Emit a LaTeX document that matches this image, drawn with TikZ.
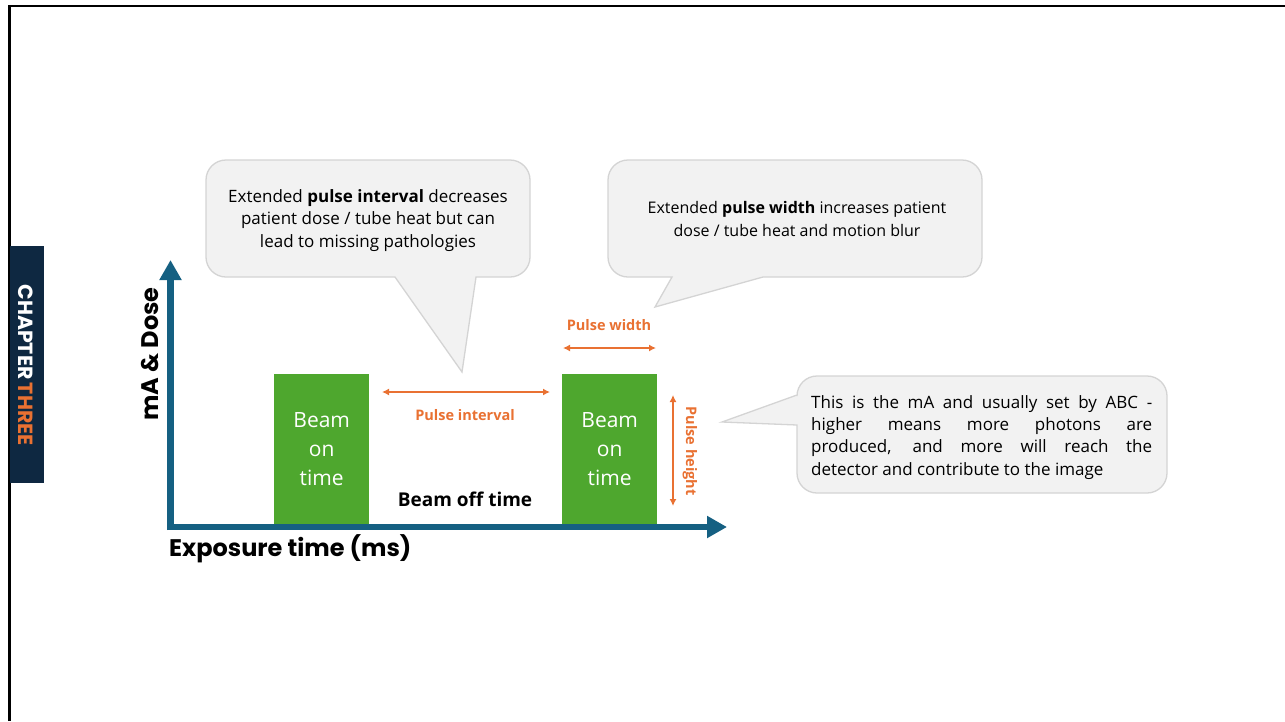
\documentclass[tikz,border=0pt]{standalone}
\usepackage{fontspec}
\setmainfont{Open Sans}
\newfontfamily\heavyfont{Poppins}
\usetikzlibrary{arrows.meta}
\definecolor{navy}{HTML}{0E2841}
\definecolor{axisblue}{HTML}{156082}
\definecolor{tone}{HTML}{E97132}
\definecolor{beamgreen}{HTML}{4EA72E}
\definecolor{balloonfill}{HTML}{F2F2F2}
\definecolor{balloonline}{HTML}{D4D4D4}
\tikzset{
  axisline/.style={draw=axisblue, line width=6.5pt, -{Triangle[width=21pt,length=20pt]}},
  beambox/.style={fill=beamgreen, text=white, align=center, inner sep=0pt,
    font=\fontsize{21}{29}\selectfont},
  dimarrow/.style={draw=tone, line width=1.6pt, {Latex[length=7pt,width=7pt]}-{Latex[length=7pt,width=7pt]}},
  dimlabel/.style={text=tone, font=\fontsize{14.5}{17}\selectfont\bfseries, inner sep=0pt},
  balloon/.style={fill=balloonfill, draw=balloonline, line width=1.3pt},
  balloontext/.style={align=center, inner sep=0pt},
  axislabel/.style={font=\heavyfont\bfseries\fontsize{24}{28}\selectfont, inner sep=0pt},
}
\begin{document}
\begin{tikzpicture}[x=1pt,y=-1pt]
\useasboundingbox (0,0) rectangle (1285,721);
\fill[white] (0,0) rectangle (1285,721);

% page frame
\draw[black, line width=2.5pt] (9.3,721) -- (9.3,5.8) -- (1285,5.8);

% chapter tab
\node[fill=navy, minimum width=34pt, minimum height=237pt, inner sep=0pt, anchor=north west] (tab) at (10,246) {};
\node[rotate=-90, inner sep=0pt, font=\heavyfont\bfseries\fontsize{20.5}{22}\selectfont] (chap) at (26,365)
  {\textcolor{white}{CHAPTER}\,\textcolor{tone}{THREE}};

% pulses
\node[beambox, minimum width=95pt, minimum height=150pt, anchor=north west] (pulse1) at (274,374) {Beam\\on\\time};
\node[beambox, minimum width=95pt, minimum height=150pt, anchor=north west] (pulse2) at (562,374) {Beam\\on\\time};

% axes
\coordinate (origin) at (167,527);
\coordinate (ytip) at (170.5,260);
\coordinate (xtip) at (727,527);
\draw[axisline] (170.5,530) -- (ytip);
\draw[axisline] (origin) -- (xtip);
\node[axislabel, rotate=90] (ylab) at (150,354) {mA \& Dose};
\node[axislabel, anchor=west] (xlab) at (169,549) {Exposure time (ms)};

% beam off label
\node[inner sep=0pt, font=\fontsize{19}{23}\selectfont\bfseries] (off) at (465,499) {Beam off time};

% dimension arrows
\coordinate (pi1) at (382,392);
\coordinate (pi2) at (550,392);
\draw[dimarrow] (pi1) -- (pi2);
\node[dimlabel] (pilab) at (465,415) {Pulse interval};

\coordinate (pw1) at (563,348);
\coordinate (pw2) at (656,348);
\draw[dimarrow] (pw1) -- (pw2);
\node[dimlabel] (pwlab) at (609,325) {Pulse width};

\coordinate (ph1) at (673,395);
\coordinate (ph2) at (673,506);
\draw[dimarrow] (ph1) -- (ph2);
\node[dimlabel, rotate=-90] (phlab) at (690,451) {Pulse height};

% balloon: pulse interval
\path[balloon] (206,220) [rounded corners=20pt] -- (206,160) -- (530,160) -- (530,277)
  [sharp corners] -- (476,277) -- (462,372) -- (395,277) [rounded corners=20pt] -- (206,277) -- cycle;
\node[balloontext, font=\fontsize{17}{22.3}\selectfont] (notei) at (368,220.5)
  {Extended \textbf{pulse interval} decreases\\patient dose / tube heat but can\\lead to missing pathologies};

% balloon: pulse width
\path[balloon] (608,220) [rounded corners=20pt] -- (608,160) -- (982,160) -- (982,277)
  [sharp corners] -- (763,277) -- (655,307) -- (672,277) [rounded corners=20pt] -- (608,277) -- cycle;
\node[balloontext, font=\fontsize{16}{22.3}\selectfont] (notew) at (797,219)
  {Extended \textbf{pulse width} increases patient\\dose / tube heat and motion blur};

% balloon: pulse height
\path[balloon] (900,376) [rounded corners=20pt] -- (1167,376) -- (1167,493) -- (797,493)
  [sharp corners] -- (797,425) -- (722,422) -- (797,395) [rounded corners=20pt] -- (797,376) -- cycle;
\node[inner sep=0pt, text width=341pt, align=justify, font=\fontsize{17}{22.3}\selectfont, anchor=north west] (noteh) at (811,395)
  {This is the mA and usually set by ABC -\linebreak higher means more photons are\linebreak produced, and more will reach the\linebreak detector and contribute to the image};
\end{tikzpicture}
\end{document}
